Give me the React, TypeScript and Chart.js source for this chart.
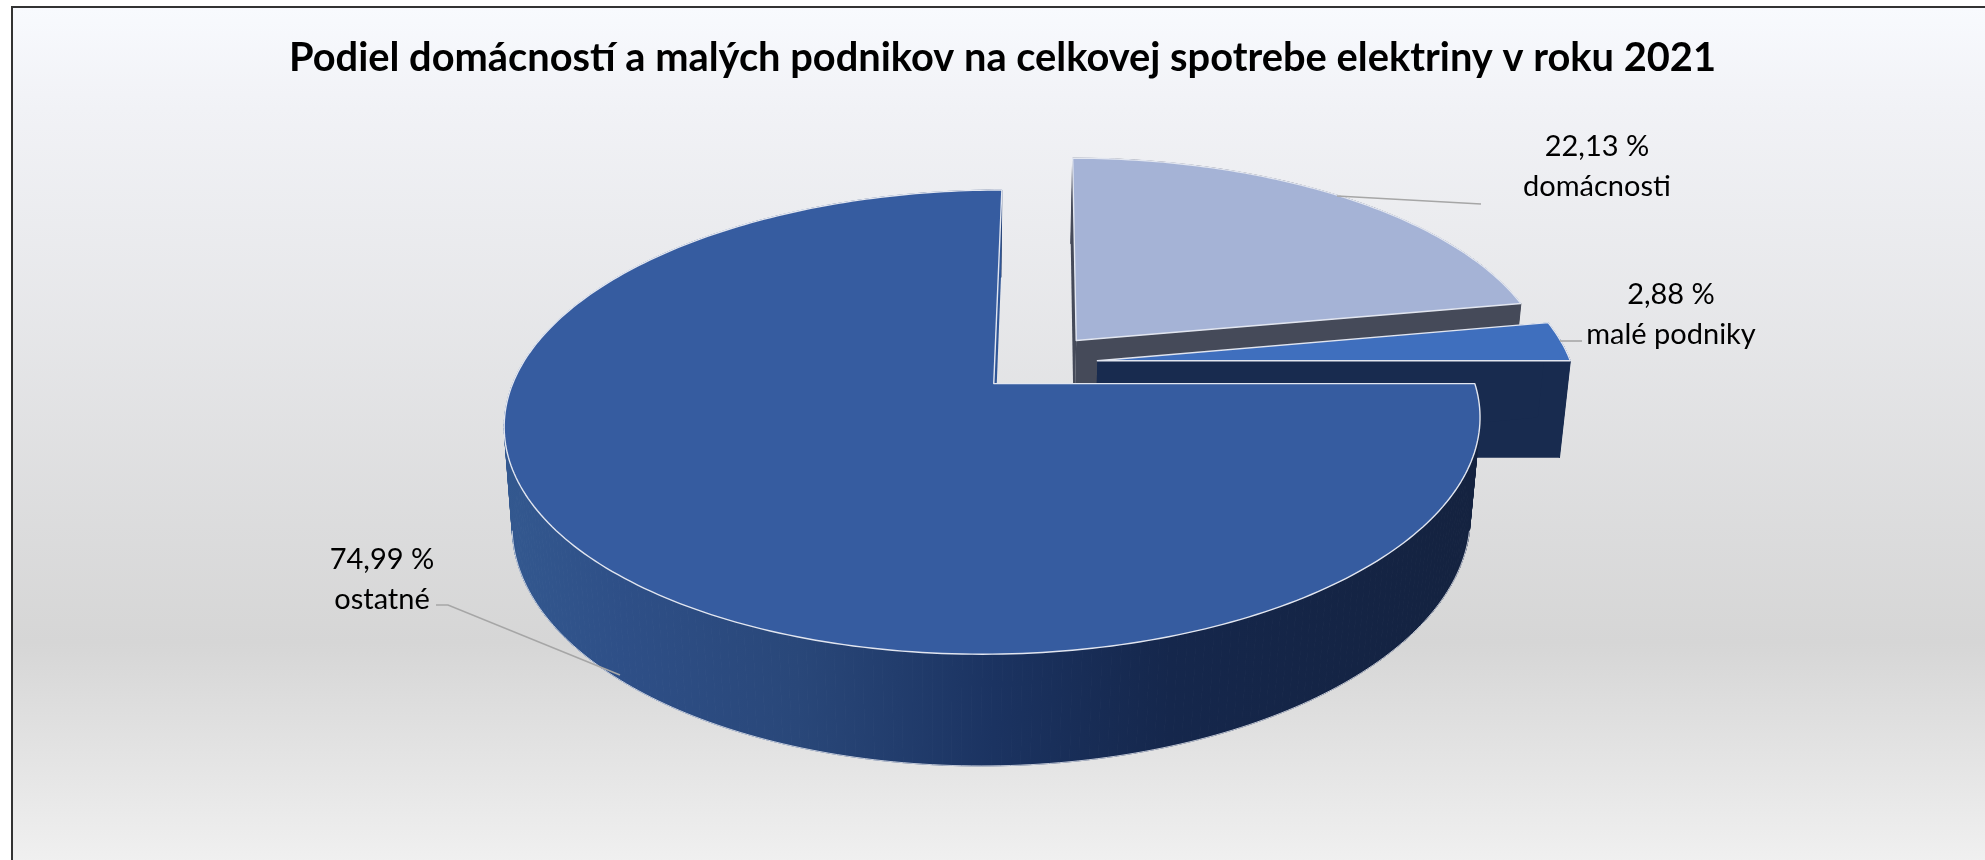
import React, { useEffect, useRef } from "react";
import { Chart, registerables } from "chart.js";

Chart.register(...registerables);

const categories = ["ostatné", "domácnosti", "malé podniky"];
const shares = [74.99, 22.13, 2.88];
const titleText = "Podiel domácností a malých podnikov na celkovej spotrebe elektriny v roku 2021";

const topColors = ["#365ca0", "#a5b3d6", "#3f6fbe"];
const wallColors = ["#2f5596", "#454a59", "#182b4f"];
const explode = [[0, 0], [0.173, -0.197], [0.217, -0.103]];
const drawOrder = [1, 2, 0];
const labelAnchors = [[382, 560], [1597, 147], [1671, 295]];
const leaders = [
  [[436, 605], [448, 605], [620, 675]],
  [[1337, 196], [1481, 204]],
  [[1560, 341], [1582, 341]],
];

const K = 1985 / 1568;
function project(u: number, v: number, z: number): [number, number] {
  const w = 1 - 0.166 * v + 0.018 * z;
  const x = (785 + 380 * u - 138 * v + 13.4 * z) / w;
  const y = (303 + 128 * v + 84.5 * z) / w;
  return [x * K, y * K];
}

function rim(start: number, end: number, ox: number, oy: number, z: number) {
  const pts: [number, number][] = [];
  const n = Math.max(2, Math.ceil(((end - start) * 180) / Math.PI));
  for (let i = 0; i <= n; i++) {
    const a = start + ((end - start) * i) / n;
    pts.push(project(ox + Math.cos(a), oy + Math.sin(a), z));
  }
  return pts;
}

function poly(ctx: CanvasRenderingContext2D, pts: [number, number][]) {
  ctx.beginPath();
  pts.forEach((p, i) => (i ? ctx.lineTo(p[0], p[1]) : ctx.moveTo(p[0], p[1])));
  ctx.closePath();
}

const pie3d = {
  id: "pie3d",
  beforeDatasetsDraw(chart: any) {
    const ctx: CanvasRenderingContext2D = chart.ctx;
    const arcs = chart.getDatasetMeta(0).data;
    ctx.save();
    ctx.lineJoin = "round";
    for (const i of drawOrder) {
      const { startAngle, endAngle } = arcs[i];
      const [ox, oy] = explode[i];
      const top = rim(startAngle, endAngle, ox, oy, 0);
      const bottom = rim(startAngle, endAngle, ox, oy, 1);
      const apexTop = project(ox, oy, 0);
      const apexBottom = project(ox, oy, 1);

      // outer wall, one quad per step so the silhouette stays filled
      let wallFill: any = wallColors[i];
      if (i === 0) {
        const g = ctx.createLinearGradient(400 * K, 0, 1170 * K, 0);
        g.addColorStop(0, "#33588f");
        g.addColorStop(0.12, "#2e4f87");
        g.addColorStop(0.3, "#294779");
        g.addColorStop(0.5, "#1b3361");
        g.addColorStop(0.68, "#15274c");
        g.addColorStop(1, "#14223f");
        wallFill = g;
      }
      ctx.fillStyle = wallFill;
      ctx.strokeStyle = wallFill;
      ctx.lineWidth = 1;
      for (let s = 0; s + 1 < top.length; s++) {
        poly(ctx, [top[s], top[s + 1], bottom[s + 1], bottom[s]]);
        ctx.fill();
        ctx.stroke();
      }
      if (i === 0) {
        // light edge only along the part of the lower rim the viewer can see
        const visible = rim(0.2, Math.PI - 0.2, ox, oy, 1);
        ctx.strokeStyle = "rgba(235,238,245,0.8)";
        ctx.lineWidth = 1;
        ctx.beginPath();
        visible.forEach((p, k) => (k ? ctx.lineTo(p[0], p[1]) : ctx.moveTo(p[0], p[1])));
        ctx.stroke();
      }

      // radial wall at the slice's end, then its start
      ctx.fillStyle = wallColors[i];
      poly(ctx, [apexTop, top[top.length - 1], bottom[bottom.length - 1], apexBottom]);
      ctx.fill();
      if (i !== 0) {
        poly(ctx, [apexTop, top[0], bottom[0], apexBottom]);
        ctx.fill();
      }

      // top face
      ctx.fillStyle = topColors[i];
      poly(ctx, [apexTop, ...top]);
      ctx.fill();
      ctx.strokeStyle = "#e2e6f0";
      ctx.lineWidth = 1.4;
      ctx.stroke();
    }
    ctx.restore();
    return false;
  },
  afterDraw(chart: any) {
    const ctx: CanvasRenderingContext2D = chart.ctx;
    ctx.save();
    ctx.strokeStyle = "#a6a6a6";
    ctx.lineWidth = 1.6;
    leaders.forEach((line) => {
      ctx.beginPath();
      line.forEach((p, i) => (i ? ctx.lineTo(p[0], p[1]) : ctx.moveTo(p[0], p[1])));
      ctx.stroke();
    });
    ctx.fillStyle = "#000";
    ctx.font = '29px Lato, "Open Sans", sans-serif';
    ctx.textAlign = "center";
    ctx.textBaseline = "middle";
    categories.forEach((name, i) => {
      const [x, y] = labelAnchors[i];
      ctx.fillText(`${String(shares[i]).replace(".", ",")} %`, x, y);
      ctx.fillText(name, x, y + 40);
    });
    ctx.restore();
  },
};

export default function App() {
  const ref = useRef<HTMLCanvasElement>(null);
  useEffect(() => {
    const chart = new Chart(ref.current as HTMLCanvasElement, {
      type: "pie",
      data: {
        labels: categories,
        datasets: [{ data: shares, backgroundColor: topColors, rotation: 90 } as any],
      },
      options: {
        animation: false,
        responsive: false,
        devicePixelRatio: 1,
        layout: { padding: { left: 20 } },
        plugins: {
          legend: { display: false },
          tooltip: { enabled: false },
          title: {
            display: true,
            text: titleText,
            color: "#000",
            align: "center",
            font: { family: 'Lato, "Open Sans", sans-serif', size: 39.8, weight: "bold" },
            padding: { top: 34, bottom: 10 },
          },
        },
      },
      plugins: [pie3d as any],
    } as any);
    return () => chart.destroy();
  }, []);
  return (
    <div style={{ position: "fixed", left: 0, top: 0, width: 1985, height: 860, overflow: "hidden", background: "#fff" }}>
      <div
        style={{
          position: "absolute",
          left: 11,
          top: 6,
          width: 2100,
          height: 1000,
          boxSizing: "border-box",
          borderLeft: "2px solid #333",
          borderTop: "2px solid #333",
          background:
            "linear-gradient(to bottom, #f8fafe 0px, #f1f2f6 100px, #d6d6d6 634px, #f0f0f0 854px, #f0f0f0 1000px)",
        }}
      />
      <canvas ref={ref} width={1985} height={860} style={{ position: "absolute", left: 0, top: 0, display: "block" }} />
    </div>
  );
}
